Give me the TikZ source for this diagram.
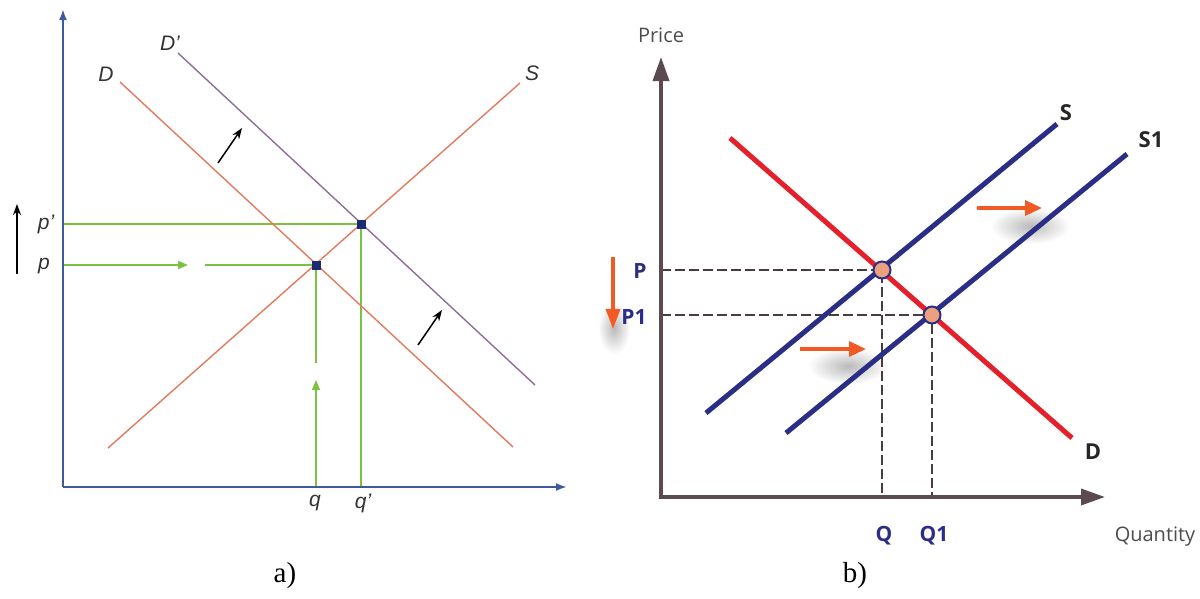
\documentclass[tikz,border=0pt]{standalone}
\usepackage{fontspec}
\setmainfont{Liberation Serif}
\setsansfont{Liberation Sans}
\newfontfamily\bfont{Open Sans}
\usetikzlibrary{arrows.meta,fadings,calc}
\tikzfading[name=softglow, inner color=transparent!55, outer color=transparent!100]
\definecolor{aaxisc}{HTML}{3F5A9C}
\definecolor{asal}{HTML}{E37A5E}
\definecolor{apur}{HTML}{8C6E98}
\definecolor{agrn}{HTML}{7CC242}
\definecolor{anavy}{HTML}{1C2C72}
\definecolor{baxisc}{HTML}{5B4B50}
\definecolor{bred}{HTML}{E4202A}
\definecolor{bnavy}{HTML}{2B2E85}
\definecolor{borange}{HTML}{F15A24}
\definecolor{bfill}{HTML}{EBA07E}
\definecolor{lbltxt}{HTML}{333333}
\begin{document}
\begin{tikzpicture}[x=1pt,y=-1pt,
  aaxis/.style={draw=aaxisc, line width=2pt},
  aline/.style={line width=1.4pt},
  grn/.style={draw=agrn, line width=1.6pt},
  blk/.style={draw=black, line width=1.5pt},
  alab/.style={font=\sffamily\itshape\fontsize{21}{21}\selectfont, text=lbltxt, inner sep=0pt},
  adot/.style={fill=anavy},
  baxis/.style={draw=baxisc, line width=3.5pt},
  bline/.style={line width=5pt},
  bdash/.style={draw=baxisc!80!black, line width=1.1pt, dash pattern=on 10pt off 4pt},
  blab/.style={font=\bfont\bfseries\fontsize{21}{21}\selectfont, text=bnavy, inner sep=0pt},
  bdark/.style={font=\bfont\bfseries\fontsize{22}{22}\selectfont, text=black!85, inner sep=0pt},
  bgray/.style={font=\bfont\fontsize{20}{20}\selectfont, text=black!70, inner sep=0pt},
  oarrow/.style={draw=borange, line width=3.5pt, -{Triangle[length=17pt,width=15pt]}},
  glow/.style={fill=black!60, path fading=softglow},
  capt/.style={font=\fontsize{29}{29}\selectfont, inner sep=0pt}
]
\useasboundingbox (0,0) rectangle (1200,598);

% ================= Panel a =================
\coordinate (aO) at (63,487);
\coordinate (aYtop) at (63,9);
\coordinate (aXend) at (567,487);
\coordinate (E1) at (316,265);
\coordinate (E2) at (361,224);

% green guide lines
\draw[grn] (63,224) -- (E2) -- (361,487);
\draw[grn, -{Triangle[length=10pt,width=8pt]}] (63,265) -- (188,265);
\draw[grn] (205,265) -- (E1);
\draw[grn, -{Triangle[length=10pt,width=8pt]}] (316,487) -- (316,380);
\draw[grn] (316,363) -- (E1);

% curves
\draw[aline, draw=asal] (108,448) -- (520,83);
\draw[aline, draw=asal] (120,82) -- (513,447);
\draw[aline, draw=apur] (178,53) -- (535,385);

% axes
\draw[aaxis, -{Latex[length=11pt,width=8pt]}] (aO) -- (aYtop);
\draw[aaxis, -{Latex[length=11pt,width=8pt]}] (aO) -- (aXend);

% shift arrows
\draw[blk, -{Stealth[length=11pt,width=8pt]}] (218,163) -- (242,128);
\draw[blk, -{Stealth[length=11pt,width=8pt]}] (418,345) -- (442,310);
\draw[blk, -{Stealth[length=11pt,width=8pt]}] (17,274) -- (17,204);

% equilibrium dots
\fill[adot] ($(E1)+(-4.5,-4.5)$) rectangle ($(E1)+(4.5,4.5)$);
\fill[adot] ($(E2)+(-4.5,-4.5)$) rectangle ($(E2)+(4.5,4.5)$);

% labels
\node[alab] (lDp) at (170,43) {D'};
\node[alab] (lD) at (106,74) {D};
\node[alab] (lS) at (532,73) {S};
\node[alab] (lpp) at (46,224) {p'};
\node[alab] (lp) at (44,266) {p};
\node[alab] (lq) at (315,503) {q};
\node[alab] (lqp) at (363,503) {q'};
\node[capt] (ca) at (285,576) {a)};

% ================= Panel b =================
\coordinate (bO) at (661,497);
\coordinate (bYtop) at (661,57);
\coordinate (bXend) at (1105,497);
\coordinate (F1) at (882,270);
\coordinate (F2) at (932,315);

% shadows
\fill[glow] (1030,226) ellipse (40 and 18);
\fill[glow] (848,366) ellipse (40 and 18);
\fill[glow] (614,328) ellipse (16 and 26);

% dashed guides
\draw[bdash] (661,270) -- (F1) -- (882,497);
\draw[bdash] (661,315) -- (F2) -- (932,497);

% axes
\draw[baxis, -{Triangle[length=24pt,width=16pt]}] (bO) -- (bYtop);
\draw[baxis, -{Triangle[length=24pt,width=16pt]}] ([xshift=-1.75pt]bO) -- (bXend);

% curves
\draw[bline, draw=bred] (730,138) -- (1072,438);
\draw[bline, draw=bnavy] (706,413) -- (1057,124);
\draw[bline, draw=bnavy] (786,433) -- (1127,154);

% equilibrium circles
\draw[fill=bfill, draw=bnavy, line width=2pt] (F1) circle (8.5);
\draw[fill=bfill, draw=bnavy, line width=2pt] (F2) circle (8.5);

% orange arrows
\draw[oarrow] (977,208) -- (1042,208);
\draw[oarrow] (800,349) -- (866,349);
\draw[draw=borange, line width=3.5pt, -{Triangle[length=20pt,width=14pt]}] (613,257) -- (613,329);

% labels
\node[bgray] (lPrice) at (661,35) {Price};
\node[bgray] (lQty) at (1155,537) {Quantity};
\node[blab] (lP) at (640,271) {P};
\node[blab] (lP1) at (634,317) {P1};
\node[blab] (lQ) at (884,536) {Q};
\node[blab] (lQ1) at (934,536) {Q1};
\node[bdark] (lSb) at (1066,113) {S};
\node[bdark] (lS1) at (1151,140) {S1};
\node[bdark] (lDb) at (1093,452) {D};
\node[capt] (cb) at (855,576) {b)};
\end{tikzpicture}
\end{document}
